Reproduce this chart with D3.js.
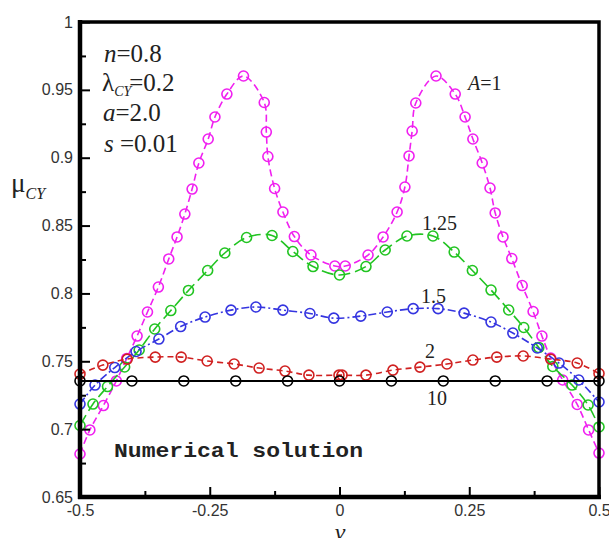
<!DOCTYPE html>
<html>
<head>
<meta charset="utf-8">
<script src="https://cdn.jsdelivr.net/npm/d3@7"></script>
<style>
  body { margin: 0; background: #fff; }
  svg { display: block; }
</style>
</head>
<body>
<svg id="chart" width="609" height="538"></svg>
<script>

// A = 1
const vA1 = [-0.5, -0.481, -0.455, -0.430, -0.410, -0.390, -0.370, -0.349, -0.329, -0.313, -0.298, -0.284, -0.271, -0.253, -0.240, -0.217, -0.185,
  -0.145, -0.141, -0.138, -0.125, -0.109, -0.087, -0.055, -0.009,
  0.011, 0.055, 0.084, 0.111, 0.126, 0.134, 0.140, 0.147,
  0.186, 0.223, 0.242, 0.257, 0.275, 0.290, 0.300, 0.315, 0.332, 0.352, 0.373, 0.390, 0.407, 0.430, 0.458, 0.480, 0.5];
const muA1 = [0.6817, 0.6994, 0.7174, 0.7355, 0.7521, 0.7686, 0.7863, 0.8047, 0.8254, 0.8416, 0.8585, 0.8769, 0.8961, 0.9138, 0.9300, 0.9469, 0.9602,
  0.9407, 0.9189, 0.9009, 0.8773, 0.8600, 0.8419, 0.8283, 0.8202,
  0.8202, 0.8283, 0.8416, 0.8600, 0.8784, 0.9013, 0.9197, 0.9403,
  0.9602, 0.9469, 0.9300, 0.9138, 0.8961, 0.8777, 0.8593, 0.8416, 0.8257, 0.8058, 0.7867, 0.7686, 0.7524, 0.7362, 0.7182, 0.6994, 0.6824];

// A = 1.25
const vA125 = [-0.5, -0.475, -0.447, -0.414, -0.386, -0.356, -0.325, -0.291, -0.254, -0.221, -0.179, -0.130, -0.090, -0.051, 0,
  0.051, 0.088, 0.130, 0.180, 0.221, 0.256, 0.292, 0.326, 0.355, 0.384, 0.411, 0.448, 0.479, 0.5];
const muA125 = [0.7027, 0.7185, 0.7314, 0.7458, 0.7583, 0.7738, 0.7874, 0.8022, 0.8169, 0.8298, 0.8412, 0.8427, 0.8309, 0.8198, 0.8136,
  0.8198, 0.8320, 0.8423, 0.8423, 0.8305, 0.8169, 0.8025, 0.7878, 0.7749, 0.7602, 0.7462, 0.7325, 0.7178, 0.7016];

// A = 1.5
const vA15 = [-0.5, -0.471, -0.433, -0.392, -0.348, -0.306, -0.259, -0.209, -0.161, -0.109, -0.057, -0.011,
  0.041, 0.092, 0.142, 0.190, 0.240, 0.292, 0.334, 0.381, 0.423, 0.461, 0.5];
const muA15 = [0.7185, 0.7325, 0.7454, 0.7572, 0.7664, 0.7756, 0.7826, 0.7877, 0.7900, 0.7877, 0.7852, 0.7818,
  0.7833, 0.7863, 0.7888, 0.7888, 0.7855, 0.7789, 0.7708, 0.7598, 0.7487, 0.7362, 0.7200];

// A = 2
const vA2 = [-0.5, -0.456, -0.409, -0.355, -0.305, -0.255, -0.203, -0.155, -0.105, -0.059, -0.001, 0.005,
  0.051, 0.103, 0.155, 0.207, 0.257, 0.303, 0.354, 0.407, 0.458, 0.5];
const muA2 = [0.7406, 0.7472, 0.7516, 0.7531, 0.7531, 0.7502, 0.7480, 0.7450, 0.7428, 0.7398, 0.7398, 0.7398,
  0.7398, 0.7435, 0.7457, 0.7480, 0.7509, 0.7531, 0.7539, 0.7516, 0.7487, 0.7410];

// A = 10
const vA10 = [-0.5, -0.4, -0.3, -0.2, -0.1, 0, 0.1, 0.2, 0.3, 0.4, 0.5];
const muA10 = [0.7355, 0.7355, 0.7355, 0.7355, 0.7355, 0.7355, 0.7355, 0.7355, 0.7355, 0.7355, 0.7355];

const yTicks = [0.65, 0.7, 0.75, 0.8, 0.85, 0.9, 0.95, 1];
const yTickLabels = ["0.65", "0.7", "0.75", "0.8", "0.85", "0.9", "0.95", "1"];
const xTicks = [-0.5, -0.25, 0, 0.25, 0.5];
const xTickLabels = ["-0.5", "-0.25", "0", "0.25", "0.5"];

let svg = d3.select("#chart");

let x = d3.scaleLinear().domain([-0.5, 0.5]).range([80, 599]);
let y = d3.scaleLinear().domain([0.65, 1]).range([497, 22]);

//Séries
let series = [
  {v: vA1, mu: muA1, color: "#f020f0", dash: "7,4"},
  {v: vA125, mu: muA125, color: "#22c422", dash: "12,5"},
  {v: vA15, mu: muA15, color: "#3535e0", dash: "8,3,2,3"},
  {v: vA2, mu: muA2, color: "#d02020", dash: "6,4"},
  {v: vA10, mu: muA10, color: "#000", dash: null}
];

let line = d3.line()
  .x(d => x(d[0]))
  .y(d => y(d[1]))
  .curve(d3.curveCatmullRom.alpha(0.5));

series.forEach(function(s){
  let pts = s.v.map((v, i) => [v, s.mu[i]]);
  svg.append("path")
    .datum(pts)
    .attr("d", line)
    .attr("fill", "none")
    .attr("stroke", s.color)
    .attr("stroke-width", s.dash ? 1.6 : 2)
    .attr("stroke-dasharray", s.dash);

  svg.append("g")
    .selectAll("circle")
    .data(pts)
    .enter()
    .append("circle")
    .attr("cx", d => x(d[0]))
    .attr("cy", d => y(d[1]))
    .attr("r", 5)
    .attr("fill", "none")
    .attr("stroke", s.color)
    .attr("stroke-width", 1.6);
});

//Axes
let yAxis = d3.axisLeft(y)
  .tickValues(yTicks)
  .tickFormat((d, i) => yTickLabels[i])
  .tickSize(-10)
  .tickPadding(7);

let gy = svg.append("g")
  .attr("transform", "translate(80,0)")
  .call(yAxis);

let yMinor = d3.axisLeft(y)
  .tickValues(yTicks.slice(0, -1).map(d => d + 0.025))
  .tickFormat("")
  .tickSize(-6);

let gy2 = svg.append("g")
  .attr("transform", "translate(80,0)")
  .call(yMinor);

let xAxis = d3.axisBottom(x)
  .tickValues(xTicks)
  .tickFormat((d, i) => xTickLabels[i])
  .tickSize(-10)
  .tickPadding(8);

let gx = svg.append("g")
  .attr("transform", "translate(0,497)")
  .call(xAxis);

let xMinor = d3.axisBottom(x)
  .tickValues([-0.375, -0.125, 0.125, 0.375])
  .tickFormat("")
  .tickSize(-6);

let gx2 = svg.append("g")
  .attr("transform", "translate(0,497)")
  .call(xMinor);

[gy, gy2, gx, gx2].forEach(function(g){
  g.select(".domain").remove();
  g.selectAll("line").attr("stroke", "#000").attr("stroke-width", 2);
  g.selectAll("text")
    .style("font-family", "Liberation Sans, Arial, sans-serif")
    .style("font-size", "16px")
    .attr("fill", "#333");
});

//Cadre
svg.append("rect")
  .attr("x", 80)
  .attr("y", 22)
  .attr("width", 519)
  .attr("height", 475)
  .attr("fill", "none")
  .attr("stroke", "#000")
  .attr("stroke-width", 3.5);

svg.append("line")
  .attr("x1", 80).attr("x2", 80)
  .attr("y1", 20).attr("y2", 499)
  .attr("stroke", "#000")
  .attr("stroke-width", 4.5);

svg.append("line")
  .attr("x1", 78).attr("x2", 601)
  .attr("y1", 497).attr("y2", 497)
  .attr("stroke", "#000")
  .attr("stroke-width", 4.5);

//Textes
const serif = "Liberation Serif, Times New Roman, serif";

let ylab = svg.append("text")
  .attr("x", 11)
  .attr("y", 192)
  .style("font-family", serif)
  .style("font-size", "27px")
  .attr("fill", "#222");
ylab.append("tspan").text("μ");
ylab.append("tspan").attr("dy", 7).style("font-size", "16px").style("font-style", "italic").text("CY");

svg.append("text")
  .attr("x", 340)
  .attr("y", 540)
  .attr("text-anchor", "middle")
  .style("font-family", serif)
  .style("font-size", "24px")
  .style("font-style", "italic")
  .attr("fill", "#222")
  .text("ν");

let params = svg.append("g")
  .style("font-family", serif)
  .style("font-size", "25px")
  .attr("fill", "#222");

let t1 = params.append("text").attr("x", 104).attr("y", 62);
t1.append("tspan").style("font-style", "italic").text("n");
t1.append("tspan").text("=0.8");

let t2 = params.append("text").attr("x", 102).attr("y", 91);
t2.append("tspan").text("λ");
t2.append("tspan").attr("dy", 5).style("font-size", "14px").style("font-style", "italic").text("CY");
t2.append("tspan").attr("dy", -5).attr("dx", -2).text("=0.2");

let t3 = params.append("text").attr("x", 103).attr("y", 121);
t3.append("tspan").style("font-style", "italic").text("a");
t3.append("tspan").text("=2.0");

let t4 = params.append("text").attr("x", 104).attr("y", 152);
t4.append("tspan").style("font-style", "italic").text("s");
t4.append("tspan").text(" =0.01");

let curveLabels = svg.append("g")
  .style("font-family", serif)
  .style("font-size", "20px")
  .attr("fill", "#222");

let la = curveLabels.append("text").attr("x", 468).attr("y", 90);
la.append("tspan").style("font-style", "italic").text("A");
la.append("tspan").text("=1");

curveLabels.append("text").attr("x", 422).attr("y", 230).text("1.25");
curveLabels.append("text").attr("x", 421).attr("y", 303).text("1.5");
curveLabels.append("text").attr("x", 425).attr("y", 358).text("2");
curveLabels.append("text").attr("x", 427).attr("y", 405).text("10");

svg.append("text")
  .attr("x", 114)
  .attr("y", 457)
  .attr("textLength", 249)
  .attr("lengthAdjust", "spacingAndGlyphs")
  .style("font-family", "Liberation Mono, Courier New, monospace")
  .style("font-size", "21px")
  .style("font-weight", "bold")
  .attr("fill", "#222")
  .text("Numerical solution");

</script>
</body>
</html>
